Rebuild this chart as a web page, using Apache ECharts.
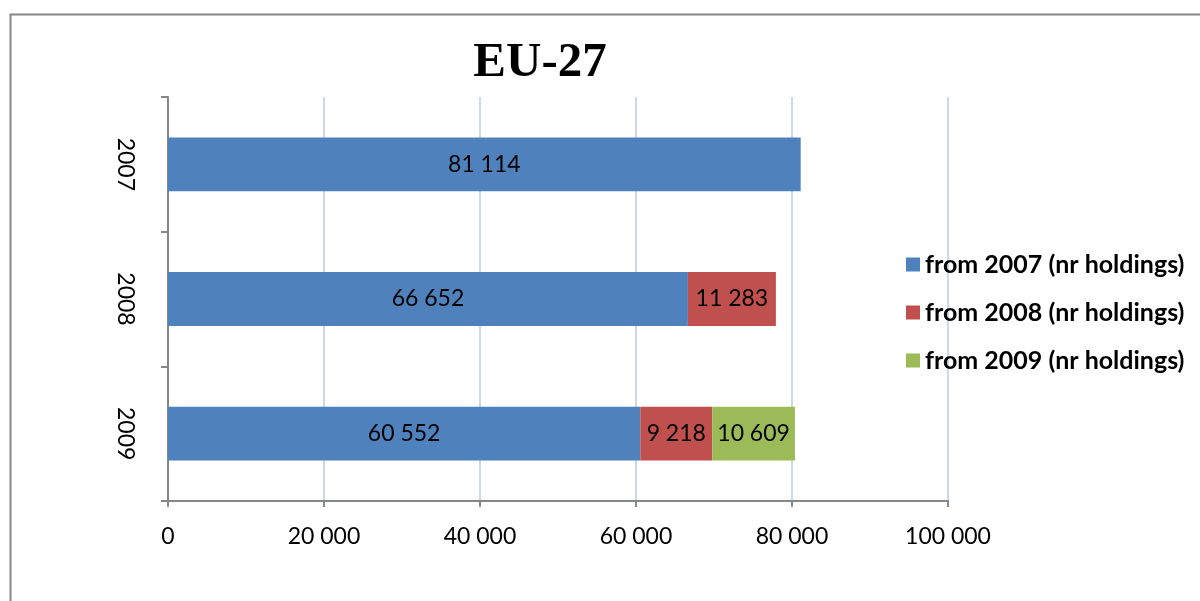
<!DOCTYPE html>
<html>
<head>
<meta charset="utf-8">
<script src="https://cdn.jsdelivr.net/npm/echarts@6/dist/echarts.min.js"></script>
<style>
  html, body { margin: 0; padding: 0; background: #fff; }
  #chart { width: 1200px; height: 601px; }
</style>
</head>
<body>
<div id="chart"></div>
<script>
// Holdings per reference year, split by year of entry
const years = ['2007', '2008', '2009'];
const from2007 = [81114, 66652, 60552];
const from2008 = [null, 11283, 9218];
const from2009 = [null, null, 10609];
const seriesNames = ['from 2007 (nr holdings)', 'from 2008 (nr holdings)', 'from 2009 (nr holdings)'];
const colors = ['#4f81bd', '#c0504d', '#9bbb59'];

const FONT = 'Lato, "Open Sans", sans-serif';

function fmt(v) {
  return String(Math.round(v)).replace(/\B(?=(\d{3})+(?!\d))/g, ' ');
}

const chart = echarts.init(document.getElementById('chart'), null, { renderer: 'canvas' });

function bar(name, data, color) {
  return {
    name: name,
    type: 'bar',
    stack: 'total',
    data: data,
    barWidth: '40%',
    itemStyle: { color: color },
    label: {
      show: true,
      position: 'inside',
      color: '#000',
      fontFamily: FONT,
      fontSize: 23,
      formatter: p => fmt(p.value)
    }
  };
}

chart.setOption({
  animation: false,
  backgroundColor: '#fff',
  title: {
    text: 'EU-27',
    left: 535,
    textAlign: 'center',
    top: 34,
    textStyle: {
      fontFamily: '"Liberation Serif", "DejaVu Serif", serif',
      fontWeight: 'bold',
      fontSize: 49,
      color: '#000'
    }
  },
  graphic: [{
    type: 'rect',
    shape: { x: 10.5, y: 14.5, width: 1300, height: 700 },
    style: { fill: 'none', stroke: '#868686', lineWidth: 2 },
    silent: true
  }],
  legend: {
    orient: 'vertical',
    left: 901,
    top: 247,
    itemWidth: 14,
    itemHeight: 14,
    itemGap: 23,
    icon: 'rect',
    textStyle: {
      fontFamily: FONT,
      fontWeight: 'bold',
      fontSize: 25,
      color: '#000'
    },
    data: seriesNames
  },
  grid: {
    left: 168,
    right: 252,
    top: 97,
    bottom: 100,
    containLabel: false
  },
  xAxis: {
    type: 'value',
    min: 0,
    max: 100000,
    interval: 20000,
    axisLine: { show: true, lineStyle: { color: '#868686', width: 2 } },
    axisTick: { show: true, length: 6, lineStyle: { color: '#868686', width: 2 } },
    splitLine: { show: true, lineStyle: { color: '#b9cde5', width: 1.5 } },
    axisLabel: {
      color: '#000',
      fontFamily: FONT,
      fontSize: 23,
      margin: 24,
      formatter: v => fmt(v)
    }
  },
  yAxis: {
    type: 'category',
    data: years,
    inverse: true,
    axisLine: { show: true, lineStyle: { color: '#868686', width: 2 } },
    axisTick: { show: true, length: 7, alignWithLabel: false, lineStyle: { color: '#868686', width: 2 } },
    axisLabel: {
      color: '#000',
      fontFamily: FONT,
      fontSize: 23,
      rotate: -90,
      margin: 43,
      align: 'center',
      verticalAlign: 'middle'
    }
  },
  series: [
    bar(seriesNames[0], from2007, colors[0]),
    bar(seriesNames[1], from2008, colors[1]),
    bar(seriesNames[2], from2009, colors[2])
  ]
});
</script>
</body>
</html>
